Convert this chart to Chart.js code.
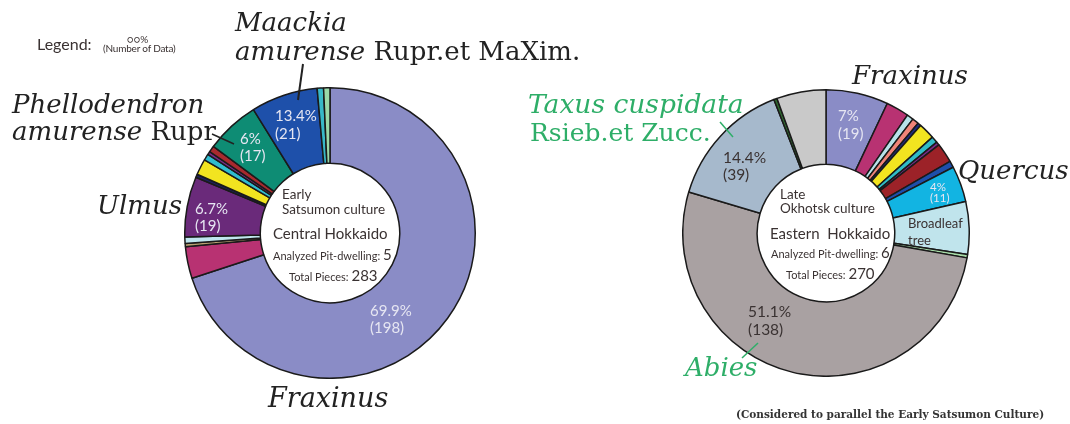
<!DOCTYPE html>
<html><head><meta charset="utf-8">
<script src="https://cdn.jsdelivr.net/npm/chart.js@4/dist/chart.umd.min.js"></script>
<style>
html,body{margin:0;padding:0;background:#fff;width:1070px;height:424px;overflow:hidden;position:relative;}
canvas{position:absolute;}
.t{position:absolute;white-space:nowrap;line-height:1;transform:translateY(-50%);}
.sans{font-family:Lato,"Open Sans",sans-serif;color:#3a3232;}
.serif{font-family:"DejaVu Serif",serif;color:#222;font-size:26px;}
.it{font-style:italic;}
.w{color:#e6e6f2;font-family:Lato,"Open Sans",sans-serif;font-size:15px;}
.g{color:#2eae68;}
svg{position:absolute;left:0;top:0;}
</style></head><body>
<canvas id="c1" width="292" height="292" style="left:184px;top:87px"></canvas>
<canvas id="c2" width="288" height="288" style="left:682px;top:89px"></canvas>
<svg width="1070" height="424">
  <line x1="303" y1="64" x2="298" y2="100" stroke="#222" stroke-width="2"/>
  <line x1="212" y1="134" x2="234" y2="144" stroke="#222" stroke-width="1.5"/>
  <line x1="720" y1="122" x2="733" y2="137" stroke="#2eae68" stroke-width="1.5"/>
  <line x1="758" y1="343" x2="742" y2="358" stroke="#2eae68" stroke-width="1.5"/>
</svg>

<!-- legend -->
<div class="t sans" style="left:37px;top:44px;font-size:16px;">Legend:</div>
<div class="t sans" style="left:127px;top:39px;font-size:10px;">○○%</div>
<div class="t sans" style="left:103px;top:48px;font-size:10px;letter-spacing:-0.2px;">(Number of Data)</div>

<!-- left big labels -->
<div class="t serif it" style="left:235px;top:22px;">Maackia</div>
<div class="t serif" style="left:235px;top:51px;"><i>amurense</i> Rupr.et MaXim.</div>
<div class="t serif it" style="left:12px;top:104px;">Phellodendron</div>
<div class="t serif" style="left:12px;top:131px;"><i>amurense</i> Rupr</div>
<div class="t serif it" style="left:97px;top:205px;">Ulmus</div>
<div class="t serif it" style="left:268px;top:397px;font-size:27px;">Fraxinus</div>

<!-- left segment labels -->
<div class="t w" style="left:275px;top:115px;">13.4%</div>
<div class="t w" style="left:275px;top:133px;">(21)</div>
<div class="t w" style="left:240px;top:138px;">6%</div>
<div class="t w" style="left:240px;top:155px;">(17)</div>
<div class="t w" style="left:195px;top:208px;">6.7%</div>
<div class="t w" style="left:195px;top:225px;">(19)</div>
<div class="t w" style="left:370px;top:310px;">69.9%</div>
<div class="t w" style="left:370px;top:327px;">(198)</div>

<!-- left hole -->
<div class="t sans" style="left:282px;top:195px;font-size:13.5px;">Early</div>
<div class="t sans" style="left:282px;top:210px;font-size:13.5px;">Satsumon culture</div>
<div class="t sans" style="left:273px;top:233px;font-size:15px;">Central Hokkaido</div>
<div class="t sans" style="left:273px;top:254px;font-size:11px;">Analyzed Pit-dwelling: <span style="font-size:15px">5</span></div>
<div class="t sans" style="left:289px;top:275px;font-size:11px;">Total Pieces: <span style="font-size:15px">283</span></div>

<!-- right big labels -->
<div class="t serif it" style="left:852px;top:75px;">Fraxinus</div>
<div class="t serif it g" style="left:528px;top:104px;font-size:26.5px;">Taxus cuspidata</div>
<div class="t serif g" style="left:530px;top:132px;font-size:25px;">Rsieb.et Zucc.</div>
<div class="t serif it" style="left:958px;top:170px;">Quercus</div>
<div class="t serif it g" style="left:685px;top:367px;">Abies</div>

<!-- right segment labels -->
<div class="t w" style="left:838px;top:115px;">7%</div>
<div class="t w" style="left:838px;top:133px;">(19)</div>
<div class="t sans" style="left:723px;top:158px;font-size:15.5px;">14.4%</div>
<div class="t sans" style="left:723px;top:175px;font-size:15.5px;">(39)</div>
<div class="t w" style="left:930px;top:187px;font-size:11.5px;">4%</div>
<div class="t w" style="left:930px;top:198px;font-size:11.5px;">(11)</div>
<div class="t sans" style="left:908px;top:223px;font-size:13px;">Broadleaf</div>
<div class="t sans" style="left:908px;top:240px;font-size:13px;">tree</div>
<div class="t sans" style="left:748px;top:312px;font-size:15.5px;">51.1%</div>
<div class="t sans" style="left:748px;top:330px;font-size:15.5px;">(138)</div>

<!-- right hole -->
<div class="t sans" style="left:780px;top:195px;font-size:13.5px;">Late</div>
<div class="t sans" style="left:780px;top:209px;font-size:13.5px;">Okhotsk culture</div>
<div class="t sans" style="left:770px;top:233px;font-size:15px;">Eastern&nbsp; Hokkaido</div>
<div class="t sans" style="left:771px;top:252px;font-size:11px;">Analyzed Pit-dwelling: <span style="font-size:15px">6</span></div>
<div class="t sans" style="left:786px;top:273px;font-size:11px;">Total Pieces: <span style="font-size:15px">270</span></div>

<div class="t" style="left:736px;top:414px;font-family:'DejaVu Serif',serif;font-weight:bold;font-size:10.5px;color:#333;">(Considered to parallel the Early Satsumon Culture)</div>

<script>
// Left: Early Satsumon culture, Central Hokkaido (total 283)
const leftLabels = ['Fraxinus','Other A','Other B','Other C','Ulmus','Other D','Other E','Other F','Other G','Other H','Phellodendron amurense','Maackia amurense','Other I','Other J'];
const leftValues = [198,10,1,2,19,1,5,2,1,2,17,21,2,2];
const leftColors = ['#8a8cc6','#b83272','#b8a070','#bfe6ee','#6a2a7a','#1c2060','#f2e420','#30bcd0','#7a2a8a','#a82a2e','#0e8c74','#1e50aa','#38b8c8','#9ad8a8'];

// Right: Late Okhotsk culture, Eastern Hokkaido (total 270)
const rightLabels = ['Fraxinus','Other A','Other B','Other C','Other D','Other E','Other F','Other G','Other H','Other I','Quercus','Broadleaf tree','Other J','Abies','Taxus cuspidata','Other K','Other L'];
const rightValues = [19,7,2,2,1,5,2,1,6,2,11,16,1,140,39,1,15];
const rightColors = ['#8a8cc6','#b83272','#b8e2ea','#f08478','#1c2a86','#f2e420','#30bcc8','#7a2a8a','#9c2228','#1e4eaa','#12b4e2','#c0e4ec','#a8dca8','#a9a1a2','#a6b9cc','#2e6a30','#c9c9c9'];

function makeChart(id, labels, values, colors){
  new Chart(document.getElementById(id), {
    type:'doughnut',
    data:{labels:labels, datasets:[{data:values, backgroundColor:colors, borderColor:'#1a1a1a', borderWidth:1.5}]},
    options:{responsive:false, animation:false, cutout:'48%',
      plugins:{legend:{display:false}, tooltip:{enabled:false}}}
  });
}
makeChart('c1', leftLabels, leftValues, leftColors);
makeChart('c2', rightLabels, rightValues, rightColors);
</script>
</body></html>
